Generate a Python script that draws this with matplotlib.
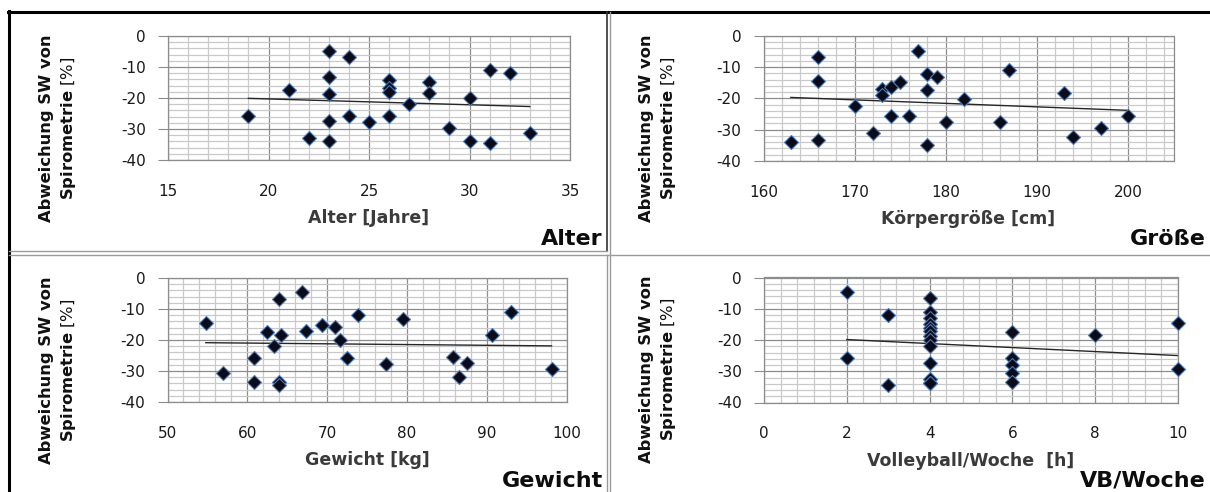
import numpy as np
import matplotlib
matplotlib.use("Agg")
import matplotlib.pyplot as plt
from matplotlib.ticker import MultipleLocator
from matplotlib.lines import Line2D

# ---------------- data ----------------
alter_x = [19, 21, 22, 23, 23, 23, 23, 23, 24, 24, 25, 26, 26, 26, 26, 27, 28, 28, 29, 30, 30, 31, 31, 32, 33]
alter_y = [-25.8, -17.4, -32.8, -4.7, -13.1, -18.8, -27.3, -33.9, -6.7, -25.8, -27.9, -14.2, -16.7, -18.0,
           -25.7, -21.9, -14.9, -18.5, -29.8, -19.9, -33.8, -11.0, -34.6, -12.0, -31.2]

groesse_x = [163, 166, 166, 166, 170, 172, 173, 173, 174, 174, 175, 176, 177, 178, 178, 178, 179, 180, 182,
             186, 187, 193, 194, 197, 200]
groesse_y = [-34.0, -6.6, -14.4, -33.3, -22.3, -31.1, -17.0, -18.9, -16.2, -25.6, -14.8, -25.6, -4.7, -12.3,
             -17.3, -34.9, -13.0, -27.6, -20.2, -27.6, -10.9, -18.3, -32.4, -29.5, -25.6]

gewicht_x = [54.8, 56.9, 60.8, 60.8, 62.5, 63.3, 64.0, 64.2, 64.0, 64.0, 66.8, 67.4, 69.4, 71.0, 71.6, 72.5,
             73.9, 77.4, 79.5, 85.7, 86.5, 87.5, 90.6, 93.0, 98.1]
gewicht_y = [-14.5, -30.8, -25.8, -33.7, -17.4, -21.8, -6.8, -18.3, -33.7, -34.6, -4.6, -17.0, -15.1, -15.9,
             -19.9, -25.8, -12.0, -27.7, -13.1, -25.6, -32.0, -27.4, -18.3, -11.1, -29.2]

vb_x = [2, 2, 3, 3, 4, 4, 4, 4, 4, 4, 4, 4, 4, 4, 4, 4, 4, 6, 6, 6, 6, 6, 8, 10, 10]
vb_y = [-4.7, -25.8, -12.1, -34.5, -6.7, -11.0, -13.1, -14.9, -16.3, -17.1, -18.7, -20.0, -22.0, -27.4,
        -32.4, -33.6, -33.9, -17.4, -25.6, -27.9, -30.6, -33.5, -18.3, -14.6, -29.2]

y_ticks = [0, -10, -20, -30, -40]
alter_ticks = [15, 20, 25, 30, 35]
groesse_ticks = [160, 170, 180, 190, 200]
gewicht_ticks = [50, 60, 70, 80, 90, 100]
vb_ticks = [0, 2, 4, 6, 8, 10]

x_labels = ["Alter [Jahre]", "Körpergröße [cm]", "Gewicht [kg]", "Volleyball/Woche  [h]"]
titles = ["Alter", "Größe", "Gewicht", "VB/Woche"]

# ---------------- figure ----------------
W, H = 1210, 492
fig = plt.figure(figsize=(W / 100, H / 100), dpi=100)
fig.patch.set_facecolor("white")


def fx(px):
    return px / W


def fy(py):
    return 1 - py / H


panels = [
    dict(x=alter_x, y=alter_y, ticks=alter_ticks, xlim=(15, 35), major=5, minor=1,
         box=(168, 570, 36, 160), xlabel=x_labels[0], title=titles[0], pbox=(9, 607, 12, 252)),
    dict(x=groesse_x, y=groesse_y, ticks=groesse_ticks, xlim=(160, 205), major=10, minor=2,
         box=(763.5, 1173.5, 36, 161), xlabel=x_labels[1], title=titles[1], pbox=(609, 1210, 12, 252)),
    dict(x=gewicht_x, y=gewicht_y, ticks=gewicht_ticks, xlim=(50, 100), major=10, minor=2,
         box=(167.5, 566.7, 278, 402), xlabel=x_labels[2], title=titles[2], pbox=(9, 607, 255, 492)),
    dict(x=vb_x, y=vb_y, ticks=vb_ticks, xlim=(0, 10), major=2, minor=0.4,
         box=(764, 1178, 277.5, 402.5), xlabel=x_labels[3], title=titles[3], pbox=(609, 1210, 255, 492)),
]

grid_major = "#8c8c8c"
grid_minor = "#c9c9c9"

for p in panels:
    l, r, t, b = p["box"]
    ax = fig.add_axes([fx(l), fy(b), fx(r) - fx(l), fy(t) - fy(b)])
    ax.set_xlim(*p["xlim"])
    ax.set_ylim(-40, 0)
    ax.xaxis.set_major_locator(MultipleLocator(p["major"]))
    ax.xaxis.set_minor_locator(MultipleLocator(p["minor"]))
    ax.yaxis.set_major_locator(MultipleLocator(10))
    ax.yaxis.set_minor_locator(MultipleLocator(2))
    ax.set_xticks(p["ticks"])
    ax.set_xticklabels([str(v) for v in p["ticks"]])
    ax.set_yticks(y_ticks)
    ax.set_yticklabels([str(v) for v in y_ticks])
    ax.grid(True, which="minor", color=grid_minor, lw=0.9, zorder=0)
    ax.grid(True, which="major", color=grid_major, lw=0.9, zorder=0)
    ax.set_axisbelow(True)
    for s in ax.spines.values():
        s.set_color(grid_major)
        s.set_linewidth(0.9)
    ax.tick_params(axis="y", which="major", length=7, direction="out", color=grid_major,
                   pad=9, labelsize=11, labelcolor="#1a1a1a")
    ax.tick_params(axis="x", which="major", length=0, pad=17, labelsize=11, labelcolor="#1a1a1a")
    ax.tick_params(which="minor", length=0)

    xs = np.array(p["x"], dtype=float)
    ys = np.array(p["y"], dtype=float)
    # linear trend line (as in Excel)
    k, d = np.polyfit(xs, ys, 1)
    xt = np.array([xs.min(), xs.max()])
    ax.plot(xt, k * xt + d, color="#262626", lw=1.0, zorder=2)
    ax.plot(xs, ys, linestyle="none", marker="D", markersize=6.8,
            markerfacecolor="#0b0b1a", markeredgecolor="#4a78b5", markeredgewidth=0.8,
            zorder=3, clip_on=False)

    # x label & title
    cx = (l + r) / 2
    fig.text(fx(cx), fy(b + 58), p["xlabel"], ha="center", va="center",
             fontsize=12.5, fontweight="bold", color="#3a3a3a")
    pl, pr, pt, pb = p["pbox"]
    fig.text(fx(pr - 4), fy(t + 203), p["title"], ha="right", va="center",
             fontsize=16, fontweight="bold", color="#0d0d0d")
    # y label (two lines)
    ymid = t + 92
    fig.text(fx(pl + 38), fy(ymid), "Abweichung SW von", rotation=90, ha="center", va="center",
             fontsize=11.8, fontweight="bold", color="#111111")
    fig.text(fx(pl + 59), fy(ymid), r"$\mathbf{Spirometrie}$ [%]", rotation=90, ha="center",
             va="center", fontsize=11.8, color="#111111")

# ---------------- chart frames ----------------
def hline(y, x0, x1, color, lw):
    fig.add_artist(Line2D([fx(x0), fx(x1)], [fy(y), fy(y)], color=color, lw=lw))


def vline(x, y0, y1, color, lw):
    fig.add_artist(Line2D([fx(x), fx(x)], [fy(y0), fy(y1)], color=color, lw=lw))


hline(12, 8, 1210, "#000000", 2.2)
vline(9, 11, 492, "#000000", 2.2)
vline(607, 12, 251, "#333333", 1.2)
vline(610, 12, 492, "#9a9a9a", 1.0)
hline(251, 9, 607, "#9a9a9a", 1.0)
hline(255, 9, 1210, "#9a9a9a", 1.0)
vline(607, 255, 492, "#9a9a9a", 1.0)

fig.savefig("out.png", dpi=100)
